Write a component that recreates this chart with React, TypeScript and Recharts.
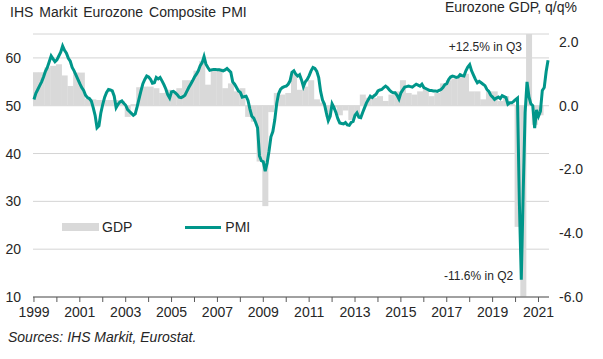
import React from "react";
import {
  ComposedChart,
  Bar,
  Line,
  XAxis,
  YAxis,
  CartesianGrid,
  Legend,
  ReferenceDot,
} from "recharts";

// monthly composite PMI, Jan 1999 - Jun 2021 (one row per year)
const pmi = [
  51.3, 52.6, 53.4, 54.2, 55.0, 56.0, 57.2, 58.0, 59.2, 60.4, 59.8, 59.2,
  59.6, 60.4, 61.2, 62.5, 61.6, 61.0, 59.9, 59.3, 58.0, 57.3, 56.4, 55.5,
  54.6, 53.8, 53.2, 52.2, 51.7, 51.5, 51.0, 49.6, 48.0, 45.4, 45.8, 48.5,
  50.3, 51.8, 52.8, 53.4, 53.3, 53.1, 52.0, 49.6, 50.3, 50.8, 51.0, 50.5,
  50.1, 49.2, 48.8, 48.4, 48.0, 48.3, 49.8, 51.5, 53.1, 54.6, 55.5, 56.2,
  56.0, 55.5, 54.7, 54.8, 55.9, 55.6, 55.9, 55.2, 54.4, 53.5, 52.3, 51.6,
  52.9, 53.0, 52.7, 52.3, 51.8, 51.7, 51.9, 52.2, 53.0, 53.8, 54.5, 55.2,
  56.0, 56.6, 57.3, 58.4, 59.0, 60.3, 58.7, 58.0, 57.4, 57.5, 57.6, 57.6,
  57.5, 57.5, 57.4, 57.3, 57.5, 57.8, 57.4, 57.0, 55.0, 54.5, 53.8, 53.1,
  52.8, 51.8, 51.9, 52.0, 51.1, 49.3, 47.8, 47.4, 46.5, 45.4, 39.5, 38.5,
  38.3, 36.3, 38.0, 40.5, 43.5, 44.6, 47.0, 50.4, 52.5, 53.4, 53.8, 54.0,
  54.1, 54.5, 55.2, 57.0, 57.3, 56.6, 56.2, 56.5, 55.4, 54.0, 55.0, 55.5,
  56.3, 57.3, 58.0, 57.8, 57.2, 55.9, 53.0, 51.2, 50.3, 48.5, 46.9, 47.8,
  50.4, 49.6, 48.6, 47.3, 46.4, 46.3, 46.2, 46.5, 46.0, 45.9, 46.5, 46.7,
  48.0, 48.5, 47.6, 47.5, 48.6, 49.6, 50.6, 51.3, 52.0, 51.7, 52.1, 52.4,
  53.1, 53.3, 53.4, 53.8, 54.1, 53.8, 53.3, 52.9, 52.7, 52.7, 52.2, 51.4,
  52.7, 53.3, 53.9, 54.0, 54.1, 54.0, 53.9, 54.2, 54.5, 54.3, 54.1, 54.5,
  53.8, 53.6, 53.4, 53.2, 53.2, 53.1, 53.1, 53.0, 53.2, 53.4, 53.8, 54.4,
  54.6, 55.5, 56.0, 56.2, 56.1, 55.9, 56.0, 56.5, 56.3, 56.2, 57.3, 58.1,
  58.6, 57.3, 56.4, 55.5, 54.8, 55.1, 54.8, 54.5, 54.2, 53.4, 53.0, 52.2,
  51.8, 51.3, 51.6, 51.8, 51.5, 52.1, 51.9, 51.7, 50.3, 50.6, 50.6, 50.9,
  51.3, 51.6, 29.7, 13.6, 31.9, 48.5, 55.0, 51.9, 50.4, 50.0, 45.3, 49.1,
  47.8, 48.8, 53.2, 53.8, 57.1, 59.5,
];

// quarterly GDP q/q %, 1999Q1 - 2021Q1
const gdp = [
  1.05, 1.05, 1.2, 1.25,
  1.3, 0.95, 0.62, 1.04,
  1.04, 0.22, 0.2, 0.18,
  0.18, 0.18, 0.18, 0.15,
  -0.35, 0.05, 0.58, 0.6,
  0.6, 0.55, 0.4, 0.5,
  0.45, 0.55, 0.8, 0.8,
  1.1, 1.4, 0.66, 1.18,
  1.18, 0.55, 0.7, 0.45,
  0.55, -0.35, -0.5, -1.75,
  -3.15, -0.2, 0.4, 0.35,
  0.4, 1.0, 0.5, 0.6,
  0.8, 0.2, 0.1, -0.35,
  -0.05, -0.3, -0.15, -0.45,
  -0.3, 0.35, 0.25, 0.25,
  0.3, 0.15, 0.35, 0.45,
  0.8, 0.4, 0.35, 0.45,
  0.55, 0.3, 0.4, 0.7,
  0.8, 0.85, 0.9, 1.0,
  0.45, 0.45, 0.2, 0.45,
  0.45, 0.15, 0.3, 0.05,
  -3.8, -11.6, 12.5, -0.6,
  -0.3,
];

const startYear = 1999;
const yearTicks = Array.from({ length: 23 }, (_, i) => `${startYear + i}-01`);
const pmiTicks = [10, 20, 30, 40, 50, 60];
const gdpTicks = [-6, -4, -2, 0, 2];

const TEAL = "#00968a";
const GREY = "#d9d9d9";
const FONT = '"Liberation Sans", Arial, sans-serif';

const data = pmi.map((v, i) => {
  const yr = startYear + Math.floor(i / 12);
  const mo = (i % 12) + 1;
  return {
    date: `${yr}-${String(mo).padStart(2, "0")}`,
    month: i,
    pmi: v,
    gdp: gdp[Math.floor(i / 3)],
  };
});

// one grey block per quarter, three months wide
const QuarterBar = (props: any) => {
  const { x, y, width, height, payload } = props;
  if (payload.month % 3 !== 0 || payload.gdp == null) return <g />;
  const top = height < 0 ? y + height : y;
  return <rect x={x} y={top} width={width * 3} height={Math.abs(height)} fill={GREY} />;
};

const LegendBox = () => (
  <div style={{ display: "flex", alignItems: "center", fontFamily: FONT, fontSize: 14, color: "#262626" }}>
    <span style={{ display: "inline-block", width: 37, height: 8, background: GREY, marginRight: 3 }} />
    <span style={{ marginRight: 53 }}>GDP</span>
    <span style={{ display: "inline-block", width: 36, height: 3, background: TEAL, marginRight: 4 }} />
    <span>PMI</span>
  </div>
);

export default function App() {
  return (
    <div
      style={{
        position: "absolute",
        left: 0,
        top: 0,
        width: 603,
        height: 359,
        background: "#fff",
        fontFamily: FONT,
        overflow: "hidden",
      }}
    >
      <div style={{ position: "absolute", left: 10, top: 4, fontSize: 14, color: "#262626", wordSpacing: 2 }}>
        IHS Markit Eurozone Composite PMI
      </div>
      <div style={{ position: "absolute", right: 26, top: -1, fontSize: 14, color: "#262626" }}>
        Eurozone GDP, q/q%
      </div>
      <ComposedChart
        width={603}
        height={359}
        data={data}
        margin={{ top: 34, right: 0, left: 0, bottom: 42 }}
        barCategoryGap={0}
        barGap={0}
      >
        <CartesianGrid yAxisId="left" vertical={false} stroke="#d4d4d4" />
        <XAxis
          dataKey="date"
          ticks={yearTicks}
          interval={0}
          height={20}
          tickSize={5}
          tickMargin={5}
          tickFormatter={(v: string) => {
            const y = Number(v.slice(0, 4));
            return (y - startYear) % 2 === 0 ? String(y) : "";
          }}
          stroke="#595959"
          tick={{ fill: "#262626", fontSize: 14, fontFamily: FONT }}
        />
        <YAxis
          yAxisId="left"
          orientation="left"
          width={33}
          domain={[10, 65]}
          ticks={pmiTicks}
          allowDataOverflow
          axisLine={false}
          tickLine={false}
          tickMargin={6}
          tick={{ fill: "#262626", fontSize: 14, fontFamily: FONT }}
        />
        <YAxis
          yAxisId="right"
          orientation="right"
          width={54}
          domain={[-6, 2.25]}
          ticks={gdpTicks}
          allowDataOverflow
          axisLine={false}
          tickLine={false}
          tickMargin={4}
          tickFormatter={(v: number) => v.toFixed(1)}
          tick={{ fill: "#262626", fontSize: 14, fontFamily: FONT }}
        />
        <Bar
          yAxisId="right"
          dataKey="gdp"
          name="GDP"
          fill={GREY}
          shape={QuarterBar}
          isAnimationActive={false}
        />
        <Line
          yAxisId="left"
          dataKey="pmi"
          name="PMI"
          stroke={TEAL}
          strokeWidth={3}
          dot={false}
          activeDot={false}
          isAnimationActive={false}
        />
        <ReferenceDot
          yAxisId="right"
          x="2020-08"
          y={1.84}
          r={0}
          stroke="none"
          label={{ value: "+12.5% in Q3", position: "left", offset: 7, fontSize: 12, fill: "#262626", fontFamily: FONT }}
        />
        <ReferenceDot
          yAxisId="right"
          x="2020-05"
          y={-5.34}
          r={0}
          stroke="none"
          label={{ value: "-11.6% in Q2", position: "left", offset: 10, fontSize: 12, fill: "#262626", fontFamily: FONT }}
        />
        <Legend
          layout="horizontal"
          verticalAlign="middle"
          align="center"
          content={LegendBox}
          wrapperStyle={{ position: "absolute", left: 62, top: 219, width: 260 }}
        />
      </ComposedChart>
      <div
        style={{
          position: "absolute",
          left: 8,
          top: 329,
          fontSize: 14,
          fontStyle: "italic",
          color: "#262626",
        }}
      >
        Sources: IHS Markit, Eurostat.
      </div>
    </div>
  );
}
